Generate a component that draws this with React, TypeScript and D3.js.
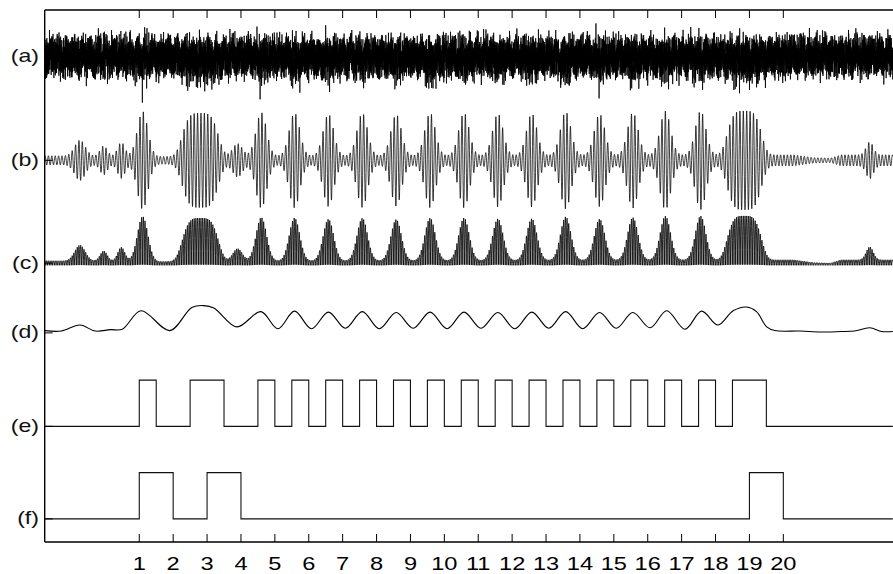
import React from "react";
import * as d3 from "d3";

const WIDTH = 893;
const HEIGHT = 574;

// ---- axes -------------------------------------------------------------
const xTickValues = [1, 2, 3, 4, 5, 6, 7, 8, 9, 10, 11, 12, 13, 14, 15, 16, 17, 18, 19, 20];
const xDomain = [-1.79, 23.23];
const yDomain = [-0.5, 11];

// ---- track labels (vertical level in track units) -------------------------
const trackLabels = ["(a)", "(b)", "(c)", "(d)", "(e)", "(f)"];
const trackLevels = [10, 7.75, 5.53, 4.02, 2, 0];
const baseA = 10;
const baseB = 7.75;
const baseC = 5.48;
const baseD = 4.0;
const baseE = 2;
const baseF = 0;

// ---- (e) and (f): pulse intervals -------------------------------------------
const ePulses: [number, number][] = [
  [1, 1.5], [2.5, 3.5], [4.5, 5], [5.5, 6], [6.5, 7], [7.5, 8], [8.5, 9], [9.5, 10],
  [10.5, 11], [11.5, 12], [12.5, 13], [13.5, 14], [14.5, 15], [15.5, 16], [16.5, 17],
  [17.5, 18], [18.5, 19.5],
];
const fPulses: [number, number][] = [[1, 2], [3, 4], [19, 20]];

// ---- (b)/(c): burst envelope (center, width, amplitude, shape power) -------
const burstCenters = [-0.75, -0.05, 0.47, 1.1, 2.8, 3.9, 4.6, 5.58, 6.58, 7.58, 8.58, 9.58, 10.58, 11.58, 12.58, 13.58, 14.58, 15.56, 16.52, 17.56, 18.85, 22.55];
const burstWidths = [0.22, 0.15, 0.15, 0.22, 0.58, 0.2, 0.22, 0.22, 0.22, 0.22, 0.22, 0.22, 0.22, 0.22, 0.22, 0.22, 0.22, 0.22, 0.22, 0.22, 0.55, 0.15];
const burstAmps = [0.34, 0.22, 0.3, 0.97, 0.93, 0.27, 0.94, 0.93, 0.9, 0.92, 0.89, 0.92, 0.92, 0.9, 0.9, 0.94, 0.89, 0.92, 0.95, 0.95, 0.95, 0.28];
const burstPowers = [2, 2, 2, 2, 4, 2, 2, 2, 2, 2, 2, 2, 2, 2, 2, 2, 2, 2, 2, 2, 4, 2];

// quiet background level of (b)
const bgX = [-1.79, 0.9, 1.5, 2.1, 19.6, 20.3, 20.9, 21.4, 21.7, 22.3, 23.23];
const bgAmp = [0.1, 0.09, 0.08, 0.09, 0.12, 0.12, 0.06, 0.05, 0.12, 0.12, 0.12];
const carrierFreq = 10; // cycles per unit

// ---- (a): broadband noise components (cycles per unit, phase) ---------------
const aFreqs = [61.3, 87.9, 113.7, 149.1, 171.3, 203.9, 229.4, 263.1, 287.7, 319.3, 347.9, 373.1, 409.7, 437.3, 471.9, 503.3];
const aPhases = [0.3, 1.7, 4.1, 2.2, 5.5, 0.9, 3.3, 2.8, 4.9, 1.2, 0.6, 3.9, 5.1, 2.5, 4.4, 1.9];
const aAmp = 0.088;
const aLimit = 0.8;

// ---- (d): smoothed envelope -------------------------------------------------
const dX = [-1.79, -1.3, -0.75, -0.3, 0.15, 0.5, 1.05, 1.9, 2.55, 2.9, 3.2, 3.88, 4.59, 5.09, 5.58, 6.08, 6.58, 7.08, 7.58, 8.08, 8.58, 9.08, 9.58, 10.08, 10.58, 11.08, 11.58, 12.08, 12.58, 13.08, 13.58, 14.08, 14.58, 15.07, 15.56, 16.07, 16.56, 17.1, 17.59, 18.07, 18.52, 18.92, 19.21, 19.51, 19.75, 20.5, 21.1, 21.7, 22.1, 22.55, 22.9, 23.23];
const dY = [0.07, 0.06, 0.19, 0.06, 0.09, 0.1, 0.5, 0.07, 0.57, 0.61, 0.56, 0.15, 0.48, 0.11, 0.49, 0.11, 0.47, 0.12, 0.48, 0.11, 0.46, 0.12, 0.47, 0.11, 0.47, 0.12, 0.46, 0.11, 0.47, 0.12, 0.48, 0.11, 0.46, 0.12, 0.46, 0.13, 0.5, 0.1, 0.49, 0.19, 0.5, 0.58, 0.48, 0.15, 0.07, 0.06, 0.04, 0.05, 0.06, 0.13, 0.05, 0.05];

const FONT = "'Liberation Sans', Arial, Helvetica, sans-serif";

export default function App() {
  const x = d3.scaleLinear().domain(xDomain).range([44.7, 892.8]);
  const y = d3.scaleLinear().domain(yDomain).range([542, 10]);
  const bg = d3.scaleLinear().domain(bgX).range(bgAmp).clamp(true);

  const burstEnv = (t: number, skipSmall = false) => {
    let s = 0;
    for (let i = 0; i < burstCenters.length; i++) {
      if (skipSmall && burstAmps[i] < 0.5) continue;
      const dx = Math.abs(t - burstCenters[i]) / burstWidths[i];
      s += burstAmps[i] * Math.exp(-Math.pow(dx, burstPowers[i]));
    }
    return s;
  };
  const bValue = (t: number) =>
    (bg(t) + burstEnv(t)) * Math.sin(2 * Math.PI * carrierFreq * t + 0.3);

  const fine = d3.range(xDomain[0], xDomain[1] + 1e-9, 0.005);
  const dense = d3.range(xDomain[0], xDomain[1] + 1e-9, 0.0021);

  const bPts: [number, number][] = fine.map((t) => [t, baseB + bValue(t)]);
  const cPts: [number, number][] = fine.map((t) => [t, baseC + Math.abs(bValue(t))]);
  const aPts: [number, number][] = dense.map((t) => {
    let v = 0;
    for (let k = 0; k < aFreqs.length; k++) v += aAmp * Math.sin(2 * Math.PI * aFreqs[k] * t + aPhases[k]);
    v = aLimit * Math.tanh(v / aLimit);
    const e = burstEnv(t, true);
    v += e * (0.08 * Math.sin(2 * Math.PI * 57.3 * t) - 0.42 * Math.pow(Math.max(0, Math.sin(2 * Math.PI * 23.9 * t + 1)), 4));
    return [t, baseA + v];
  });
  const dPts: [number, number][] = dX.map((t, i) => [t, baseD + dY[i]]);

  const pulsePts = (pulses: [number, number][], base: number): [number, number][] => {
    const pts: [number, number][] = [[xDomain[0], base]];
    pulses.forEach(([s, e]) => {
      pts.push([s, base + 1]);
      pts.push([e, base]);
    });
    pts.push([xDomain[1], base]);
    return pts;
  };

  const line = d3.line<[number, number]>().x((d) => x(d[0])).y((d) => y(d[1]));
  const smooth = d3.line<[number, number]>().x((d) => x(d[0])).y((d) => y(d[1])).curve(d3.curveCatmullRom.alpha(0.5));
  const step = d3.line<[number, number]>().x((d) => x(d[0])).y((d) => y(d[1])).curve(d3.curveStepAfter);

  const x0 = x(xDomain[0]);
  const yTop = y(yDomain[1]);
  const yBot = y(yDomain[0]);

  return (
    <svg width={WIDTH} height={HEIGHT} style={{ position: "absolute", left: 0, top: 0, background: "#fff" }}>
      <defs>
        <clipPath id="plotClip">
          <rect x={x0} y={yTop + 1} width={WIDTH - x0} height={yBot - yTop - 1} />
        </clipPath>
      </defs>
      <rect x={0} y={0} width={WIDTH} height={HEIGHT} fill="#fff" />
      {/* signals */}
      <g clipPath="url(#plotClip)">
        <path d={line(aPts) || ""} fill="none" stroke="#000" strokeWidth={0.8} />
        <path d={line(bPts) || ""} fill="none" stroke="#000" strokeWidth={0.75} />
        <path d={line(cPts) || ""} fill="none" stroke="#000" strokeWidth={0.8} />
        <path d={smooth(dPts) || ""} fill="none" stroke="#000" strokeWidth={1.1} />
        <path d={step(pulsePts(ePulses, baseE)) || ""} fill="none" stroke="#111" strokeWidth={1.1} />
        <path d={step(pulsePts(fPulses, baseF)) || ""} fill="none" stroke="#111" strokeWidth={1.1} />
      </g>

      {/* frame */}
      <line x1={x0} x2={WIDTH} y1={yTop} y2={yTop} stroke="#000" strokeWidth={1.3} />
      <line x1={x0} x2={WIDTH} y1={yBot} y2={yBot} stroke="#000" strokeWidth={1.6} />
      <line x1={x0} x2={x0} y1={yTop} y2={yBot} stroke="#000" strokeWidth={1.4} />

      {/* x ticks */}
      {xTickValues.map((v) => (
        <g key={v}>
          <line x1={x(v)} x2={x(v)} y1={yBot} y2={yBot - 8} stroke="#000" strokeWidth={1} />
          <line x1={x(v)} x2={x(v)} y1={yTop} y2={yTop + 8} stroke="#000" strokeWidth={1} />
          <text
            transform={`translate(${x(v)},570) scale(1.35,1)`}
            textAnchor="middle"
            fontFamily={FONT}
            fontSize={17.5}
            fill="#000"
          >
            {v}
          </text>
        </g>
      ))}

      {/* y ticks and labels */}
      {trackLabels.map((lab, i) => (
        <g key={lab}>
          <line x1={x0} x2={x0 + 8} y1={y(trackLevels[i])} y2={y(trackLevels[i])} stroke="#000" strokeWidth={1} />
          <text
            transform={`translate(39,${y(trackLevels[i]) + 5.5}) scale(1.25,1)`}
            textAnchor="end"
            fontFamily={FONT}
            fontSize={18.5}
            fill="#111"
          >
            {lab}
          </text>
        </g>
      ))}
    </svg>
  );
}
